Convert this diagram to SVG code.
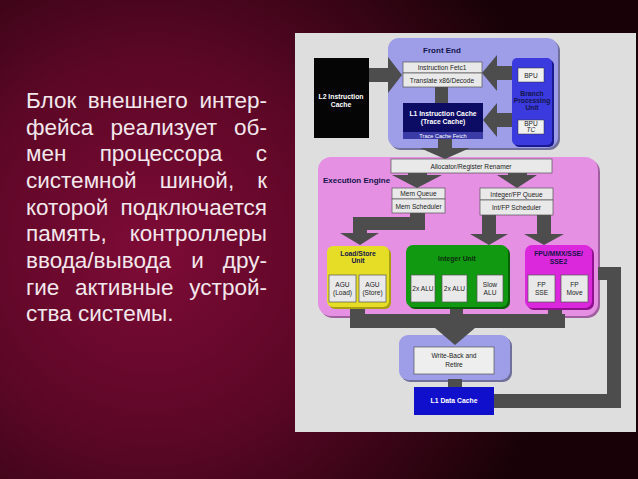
<svg xmlns="http://www.w3.org/2000/svg" width="638" height="479" viewBox="0 0 638 479">
<defs>
<radialGradient id="bg" gradientUnits="userSpaceOnUse" cx="150" cy="250" r="420">
<stop offset="0" stop-color="#7e0b36"/>
<stop offset="0.45" stop-color="#5c0726"/>
<stop offset="1" stop-color="#180207"/>
</radialGradient>
<style>
.ru{font-family:"Liberation Sans",Arial,sans-serif;font-size:22.5px;fill:#f3e7ec}
.t{font-family:"Liberation Sans",Arial,sans-serif;font-size:6.6px;fill:#222;text-anchor:middle}
.tb{font-family:"Liberation Sans",Arial,sans-serif;font-size:6.8px;font-weight:bold;fill:#14144a;text-anchor:middle}
.tw{font-family:"Liberation Sans",Arial,sans-serif;font-size:6.8px;font-weight:bold;fill:#fff;text-anchor:middle}
.box{fill:#e9e9e9;stroke:#555;stroke-width:0.7}
.ar{fill:#4d4d4d}
</style>
</defs>
<rect width="638" height="479" fill="url(#bg)"/>
<g id="text" class="ru">
<text y="108"><tspan x="26">Блок</tspan><tspan x="137.7" text-anchor="middle">внешнего</tspan><tspan x="267" text-anchor="end">интер-</tspan></text>
<text y="135"><tspan x="26">фейса</tspan><tspan x="163.8" text-anchor="middle">реализует</tspan><tspan x="267" text-anchor="end">об-</tspan></text>
<text y="161"><tspan x="26">мен</tspan><tspan x="161" text-anchor="middle">процессора</tspan><tspan x="267" text-anchor="end">с</tspan></text>
<text y="188"><tspan x="26">системной</tspan><tspan x="197" text-anchor="middle">шиной,</tspan><tspan x="267" text-anchor="end">к</tspan></text>
<text y="215"><tspan x="26">которой</tspan><tspan x="267" text-anchor="end">подключается</tspan></text>
<text y="241"><tspan x="26">память,</tspan><tspan x="267" text-anchor="end">контроллеры</tspan></text>
<text y="268"><tspan x="26">ввода/вывода</tspan><tspan x="197.6" text-anchor="middle">и</tspan><tspan x="267" text-anchor="end">дру-</tspan></text>
<text y="295"><tspan x="26">гие</tspan><tspan x="124.2" text-anchor="middle">активные</tspan><tspan x="267" text-anchor="end">устрой-</tspan></text>
<text y="321" x="26">ства системы.</text>
</g>
<rect x="295" y="33" width="341" height="399" fill="#dedede"/>

<g id="front-end">
<rect x="390" y="40" width="170" height="110" rx="11" fill="#70709a"/>
<rect x="388" y="38" width="170" height="110" rx="11" fill="#9d9de8"/>
<text x="442" y="53" class="tb" style="font-size:8px">Front End</text>
</g>
<g id="execution-engine">
<rect x="320" y="159" width="280" height="159" rx="13" fill="#a060a0"/>
<rect x="318" y="157" width="280" height="159" rx="13" fill="#e590e3"/>
<text x="323" y="183" class="tb" style="font-size:8px;text-anchor:start">Execution Engine</text>
</g>
<g id="write-back-panel">
<rect x="401" y="337" width="111" height="45" rx="9" fill="#70709a"/>
<rect x="399" y="335" width="111" height="45" rx="9" fill="#9d9de8"/>
</g>

<g id="connectors" class="ar">
<polygon points="369,68 388,68 388,57 402,75 388,93 388,82 369,82"/>
<polygon points="512,66 497,66 497,55 482,73 497,91 497,80 512,80"/>
<polygon points="512,113 497,113 497,103 483,120 497,137 497,127 512,127"/>
<rect x="435" y="87" width="13" height="16"/>
<polygon points="438,139 452,139 452,148 470,148 445,159 420,148 438,148"/>
<polygon points="408,173 427,173 427,175 442,175 417,188 392,175 408,175"/>
<polygon points="508,173 527,173 527,175 537,175 517,188 497,175 508,175"/>
<polygon points="410,213 425,213 425,230 367,230 367,233 379,233 360,245 340,233 353,233 353,217 410,217"/>
<polygon points="482,215 496,215 496,234 508,234 489,245 470,234 482,234"/>
<polygon points="537,215 551,215 551,234 564,234 544,245 524,234 537,234"/>
<polygon points="350,306 365,306 365,314 450,314 450,306 463,306 463,314 548,314 548,306 562,306 562,314 565,314 565,328 475,328 455,345 435,328 350,328"/>
<rect x="448" y="379" width="14" height="9"/>
<polygon points="494,394 607,394 607,280 598,280 598,267 621,267 621,408 494,408"/>
</g>

<g id="l2-cache">
<rect x="314" y="58" width="55" height="80" fill="#050505"/>
<text x="341" y="99" class="tw">L2 Instruction</text>
<text x="341" y="107" class="tw">Cache</text>
</g>
<g id="instruction-fetch">
<rect x="403" y="62" width="79" height="11" class="box"/>
<text x="442" y="70" class="t">Instruction Fetc1</text>
</g>
<g id="translate">
<rect x="403" y="73" width="79" height="14" class="box"/>
<text x="442" y="82.5" class="t">Translate x86/Decode</text>
</g>
<g id="l1-instruction-cache">
<rect x="403" y="103" width="80" height="36" fill="#0c0c64"/>
<rect x="403" y="132" width="80" height="7" fill="#3b3ba8"/>
<text x="443" y="116" class="tw">L1 Instruction Cache</text>
<text x="443" y="124" class="tw">(Trace Cache)</text>
<text x="443" y="137.8" class="tw" style="font-size:5.6px;font-weight:normal">Trace Cache Fetch</text>
</g>
<g id="bpu">
<rect x="514" y="60" width="40" height="87" rx="5" fill="#1a1a90"/>
<rect x="512" y="58" width="40" height="87" rx="5" fill="#3a3adf"/>
<rect x="518" y="68" width="26" height="14" fill="#f0f0f0" stroke="#333" stroke-width="0.5"/>
<text x="531" y="77.5" class="t">BPU</text>
<text x="532" y="96" class="tb">Branch</text>
<text x="532" y="103" class="tb">Processing</text>
<text x="532" y="110" class="tb">Unit</text>
<rect x="518" y="120" width="26" height="14" fill="#f0f0f0" stroke="#333" stroke-width="0.5"/>
<text x="531" y="126" class="t">BPU</text>
<text x="531" y="132" class="t" style="font-style:italic">TC</text>
</g>
<g id="allocator">
<rect x="391" y="159" width="161" height="14" class="box"/>
<text x="471" y="168.5" class="t">Allocator/Register Renamer</text>
</g>
<g id="mem-queue">
<rect x="392" y="188" width="53" height="11" class="box"/>
<text x="418.5" y="196" class="t">Mem Queue</text>
<rect x="392" y="199" width="53" height="14" class="box"/>
<text x="418.5" y="208.5" class="t">Mem Scheduler</text>
</g>
<g id="int-fp-queue">
<rect x="480" y="188" width="73" height="12" class="box"/>
<text x="516.5" y="196.5" class="t">Integer/FP Queue</text>
<rect x="480" y="200" width="73" height="15" class="box"/>
<text x="516.5" y="210" class="t">Int/FP Scheduler</text>
</g>
<g id="load-store">
<rect x="329" y="248" width="62" height="61" rx="6" fill="#a8a010"/>
<rect x="327" y="246" width="62" height="61" rx="6" fill="#e6de26"/>
<text x="358" y="256" class="tb">Load/Store</text>
<text x="358" y="263" class="tb">Unit</text>
<rect x="329" y="275" width="27" height="27" class="box"/>
<text x="342.5" y="287" class="t">AGU</text>
<text x="342.5" y="295" class="t">(Load)</text>
<rect x="359" y="275" width="27" height="27" class="box"/>
<text x="372.5" y="287" class="t">AGU</text>
<text x="372.5" y="295" class="t">(Store)</text>
</g>
<g id="integer-unit">
<rect x="408" y="247" width="102" height="62" rx="7" fill="#066006"/>
<rect x="406" y="245" width="102" height="62" rx="7" fill="#119a11"/>
<text x="457" y="261" class="tb" style="fill:#0c2a0c">Integer Unit</text>
<rect x="411" y="275" width="24" height="27" class="box"/>
<text x="423" y="291" class="t">2x ALU</text>
<rect x="442" y="275" width="25" height="27" class="box"/>
<text x="454.5" y="291" class="t">2x ALU</text>
<rect x="477" y="275" width="26" height="27" class="box"/>
<text x="490" y="287" class="t">Slow</text>
<text x="490" y="295" class="t">ALU</text>
</g>
<g id="fpu">
<rect x="527" y="247" width="67" height="63" rx="7" fill="#901090"/>
<rect x="525" y="245" width="67" height="63" rx="7" fill="#dc28dc"/>
<text x="558.5" y="256" class="tb">FPU/MMX/SSE/</text>
<text x="558.5" y="264" class="tb">SSE2</text>
<rect x="528" y="275" width="27" height="27" class="box"/>
<text x="541.5" y="287" class="t">FP</text>
<text x="541.5" y="295" class="t">SSE</text>
<rect x="561" y="275" width="27" height="27" class="box"/>
<text x="574.5" y="287" class="t">FP</text>
<text x="574.5" y="295" class="t">Move</text>
</g>
<g id="write-back">
<rect x="414" y="347" width="80" height="27" class="box" style="fill:#eeeeee"/>
<text x="454" y="358" class="t">Write-Back and</text>
<text x="454" y="367" class="t">Retire</text>
</g>
<g id="l1-data-cache">
<rect x="414" y="387" width="80" height="28" fill="#1010cc"/>
<text x="454" y="403" class="tw">L1 Data Cache</text>
</g>
</svg>
